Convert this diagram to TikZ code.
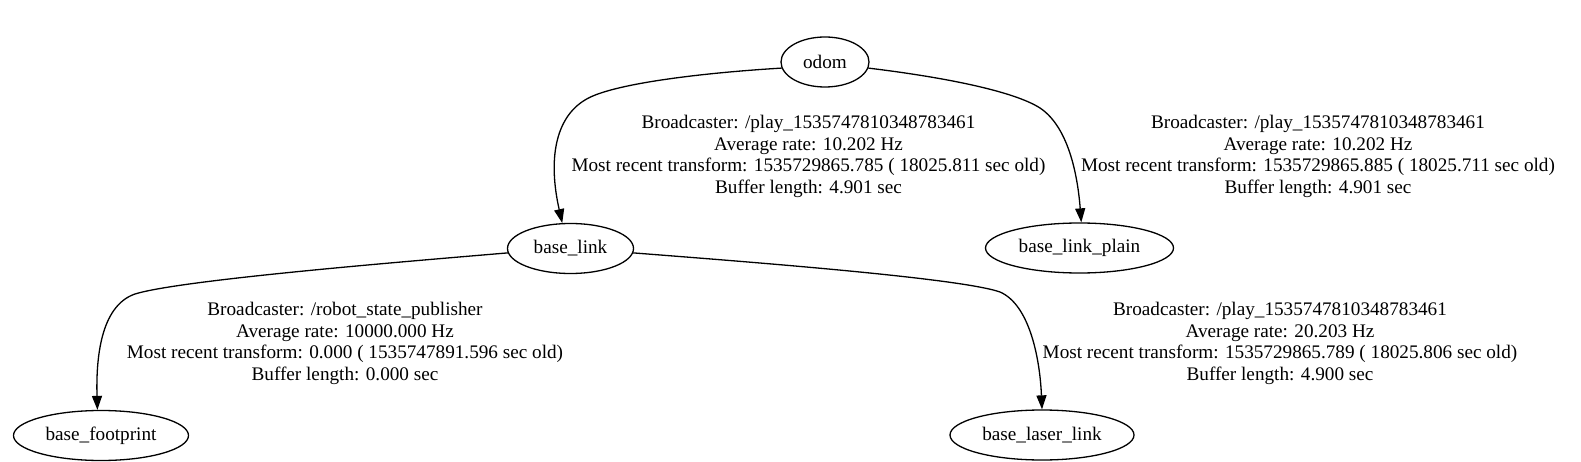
\documentclass[tikz,border=0pt]{standalone}
\usepackage{fontspec}
\setmainfont{Liberation Serif}
\usetikzlibrary{shapes.geometric,arrows.meta}
\tikzset{
  frame/.style={ellipse,draw,line width=1.3pt,inner sep=0pt,minimum height=50pt,font=\fontsize{19.2}{21.5}\selectfont},
  edgelbl/.style={align=center,inner sep=0pt,anchor=base,font=\fontsize{19.2}{21.5}\selectfont},
  link/.style={line width=1.3pt,-{Triangle[length=14pt,width=10pt]}}
}
\begin{document}
\begin{tikzpicture}[x=1pt,y=-1pt]
\useasboundingbox (0,0) rectangle (1581,462);
\node[frame,minimum width=88pt] (odom) at (825,62) {odom};
\node[frame,minimum width=126pt] (base_link) at (570.5,248.5) {base\_link};
\node[frame,minimum width=188pt] (base_link_plain) at (1079.5,248) {base\_link\_plain};
\node[frame,minimum width=175pt] (base_footprint) at (101,435.5) {base\_footprint};
\node[frame,minimum width=184pt] (base_laser_link) at (1042,435) {base\_laser\_link};

\draw[link] (odom.188) .. controls (700,73) and (610,84) .. (585,100)
  .. controls (555,118) and (548,160) .. (base_link.108);
\draw[link] (odom.-8) .. controls (950,78) and (1015,92) .. (1040,108)
  .. controls (1070,128) and (1078,180) .. (base_link_plain.86);
\draw[link] (base_link.184) .. controls (400,262) and (180,280) .. (135,294)
  .. controls (100,306) and (96,360) .. (base_footprint.98);
\draw[link] (base_link.-4) .. controls (750,262) and (960,278) .. (1000,292)
  .. controls (1030,305) and (1040,360) .. (base_laser_link.north);

\node[edgelbl] (l1) at (808.5,193.5) {Broadcaster: /play\_1535747810348783461\\Average rate: 10.202 Hz\\Most recent transform: 1535729865.785 ( 18025.811 sec old)\\Buffer length: 4.901 sec};
\node[edgelbl] (l2) at (1318,193.5) {Broadcaster: /play\_1535747810348783461\\Average rate: 10.202 Hz\\Most recent transform: 1535729865.885 ( 18025.711 sec old)\\Buffer length: 4.901 sec};
\node[edgelbl] (l3) at (345,380) {Broadcaster: /robot\_state\_publisher\\Average rate: 10000.000 Hz\\Most recent transform: 0.000 ( 1535747891.596 sec old)\\Buffer length: 0.000 sec};
\node[edgelbl] (l4) at (1280,380) {Broadcaster: /play\_1535747810348783461\\Average rate: 20.203 Hz\\Most recent transform: 1535729865.789 ( 18025.806 sec old)\\Buffer length: 4.900 sec};
\end{tikzpicture}
\end{document}
